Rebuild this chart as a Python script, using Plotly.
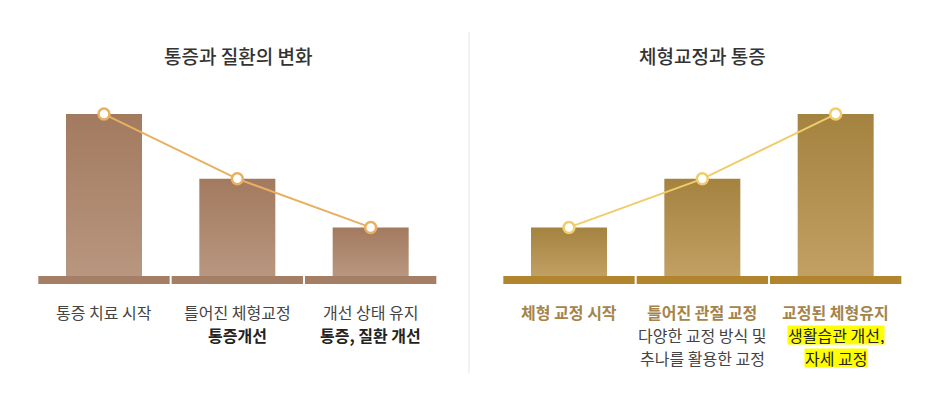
import plotly.graph_objects as go

# data
left_title = "통증과 질환의 변화"
right_title = "체형교정과 통증"
left_values = [100, 60, 30]
right_values = [30, 60, 100]
left_line1 = ["통증 치료 시작", "틀어진 체형교정", "개선 상태 유지"]
left_line2 = ["", "통증개선", "통증, 질환 개선"]
right_line1 = ["체형 교정 시작", "틀어진 관절 교정", "교정된 체형유지"]
right_line2 = ["", "다양한 교정 방식 및", "생활습관 개선,"]
right_line3 = ["", "추나를 활용한 교정", "자세 교정"]

FONT = "Noto Sans CJK KR"
W, H = 937, 404
BAR_W = 0.57
STRIP_W = 0.985
STRIP_H = 4.9
XR = [-0.78, 2.73]
YR = [-79.0, 170.4]
LS = 16  # label font size

fig = go.Figure()


def px_y(p):
    return 1 - p / H


def panel(xa, ya, values, top, bottom, strip, line_color):
    for i, v in enumerate(values):
        fig.add_trace(go.Scatter(
            x=[i - BAR_W / 2, i + BAR_W / 2, i + BAR_W / 2, i - BAR_W / 2, i - BAR_W / 2],
            y=[0, 0, v, v, 0],
            xaxis=xa, yaxis=ya, mode="lines", line=dict(width=0),
            fill="toself", fillcolor=top,
            fillgradient=dict(type="vertical", colorscale=[[0, bottom], [1, top]]),
            hoverinfo="skip", showlegend=False))
        fig.add_shape(type="rect", xref=xa, yref=ya,
                      x0=i - STRIP_W / 2, x1=i + STRIP_W / 2, y0=-STRIP_H, y1=0,
                      fillcolor=strip, line=dict(width=0), layer="above")
    fig.add_trace(go.Scatter(
        x=list(range(len(values))), y=values, xaxis=xa, yaxis=ya,
        mode="lines+markers",
        line=dict(color=line_color, width=2),
        marker=dict(size=11, color="white", line=dict(color=line_color, width=2.5)),
        hoverinfo="skip", showlegend=False))


panel("x", "y", left_values, "#a27a5f", "#b9967f", "#a57e66", "#e8b060")
panel("x2", "y2", right_values, "#a4823f", "#c2a064", "#b0852e", "#f0cc6a")

ann = []
ann.append(dict(text=left_title, x=238 / W, y=px_y(55), xref="paper", yref="paper",
                showarrow=False, font=dict(family=FONT, size=19, color="#333333", weight=500),
                xanchor="center", yanchor="middle"))
ann.append(dict(text=right_title, x=702 / W, y=px_y(55), xref="paper", yref="paper",
                showarrow=False, font=dict(family=FONT, size=19, color="#333333", weight=500),
                xanchor="center", yanchor="middle"))

for i in range(3):
    ann.append(dict(text=left_line1[i], x=i, y=px_y(312), xref="x", yref="paper",
                    showarrow=False, font=dict(family=FONT, size=LS, color="#444444"),
                    yanchor="middle"))
    if left_line2[i]:
        ann.append(dict(text="<b>" + left_line2[i] + "</b>", x=i, y=px_y(335), xref="x",
                        yref="paper", showarrow=False,
                        font=dict(family=FONT, size=LS, color="#222222"), yanchor="middle"))
    ann.append(dict(text="<b>" + right_line1[i] + "</b>", x=i, y=px_y(312), xref="x2",
                    yref="paper", showarrow=False,
                    font=dict(family=FONT, size=LS, color="#a5844c"), yanchor="middle"))
    hl = "#ffff00" if i == 2 else "rgba(0,0,0,0)"
    tc = "#222222" if i == 2 else "#444444"
    if right_line2[i]:
        ann.append(dict(text=right_line2[i], x=i, y=px_y(335), xref="x2", yref="paper",
                        showarrow=False, font=dict(family=FONT, size=LS, color=tc),
                        bgcolor=hl, borderpad=0, height=18, yanchor="middle"))
    if right_line3[i]:
        ann.append(dict(text=right_line3[i], x=i, y=px_y(358), xref="x2", yref="paper",
                        showarrow=False, font=dict(family=FONT, size=LS, color=tc),
                        bgcolor=hl, borderpad=0, height=18, yanchor="middle"))

axis_x = dict(range=XR, visible=False, fixedrange=True)
axis_y = dict(range=YR, visible=False, fixedrange=True)

fig.update_layout(
    width=W, height=H,
    margin=dict(l=0, r=0, t=0, b=0),
    paper_bgcolor="white", plot_bgcolor="rgba(0,0,0,0)",
    xaxis=dict(axis_x, domain=[0, 468 / W]),
    yaxis=dict(axis_y, domain=[0, 1]),
    xaxis2=dict(axis_x, domain=[465 / W, 933 / W], anchor="y2"),
    yaxis2=dict(axis_y, domain=[0, 1], anchor="x2"),
    annotations=ann,
    shapes=list(fig.layout.shapes) + [dict(type="line", xref="paper", yref="paper",
                                           x0=469 / W, x1=469 / W, y0=px_y(32), y1=px_y(373),
                                           line=dict(color="#e6e6e6", width=1))],
)

# page body has a default margin; drop it so the chart sits at 0,0
fig.write_html("out.html", config={"displayModeBar": False},
               post_script="document.body.style.margin='0';document.body.style.overflow='hidden';")
